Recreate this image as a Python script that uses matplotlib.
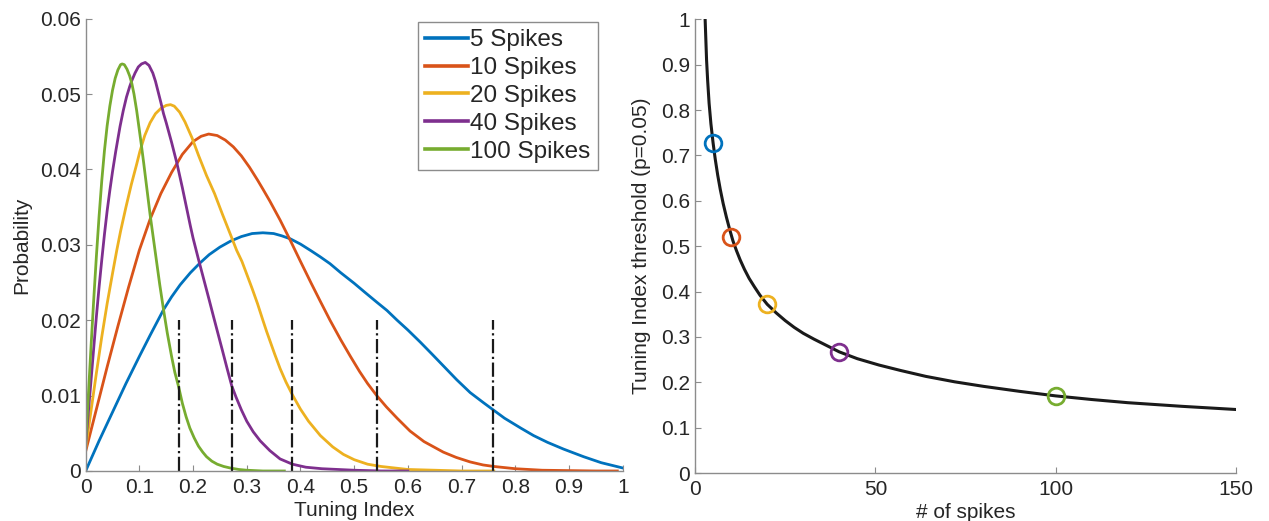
import matplotlib
matplotlib.use("Agg")
import matplotlib.pyplot as plt
from matplotlib.ticker import FuncFormatter

plt.rcParams['font.family'] = ['Liberation Sans', 'DejaVu Sans']

# left panel: probability of tuning index for different spike counts
blue_x = [0, 0.025, 0.05, 0.075, 0.1, 0.12, 0.145, 0.16, 0.176, 0.195, 0.213, 0.23,
          0.25, 0.27, 0.29, 0.31, 0.33, 0.35, 0.365, 0.381, 0.4, 0.42, 0.437, 0.455,
          0.475, 0.5, 0.52, 0.542, 0.561, 0.58, 0.6, 0.623, 0.645, 0.668, 0.691,
          0.716, 0.74, 0.759, 0.78, 0.81, 0.834, 0.86, 0.89, 0.927, 0.96, 1.0]
blue_y = [0, 0.0040, 0.0078, 0.0116, 0.0152, 0.0180, 0.0214, 0.0231, 0.0247, 0.0263,
          0.0276, 0.0287, 0.0297, 0.0305, 0.0311, 0.0315, 0.0316, 0.0315, 0.0312,
          0.0308, 0.0301, 0.0292, 0.0284, 0.0275, 0.0263, 0.0249, 0.0237, 0.0224,
          0.0213, 0.0200, 0.0187, 0.0171, 0.0155, 0.0138, 0.0121, 0.0104, 0.0091,
          0.0081, 0.0070, 0.0057, 0.0047, 0.0038, 0.0029, 0.0019, 0.0011, 0.0004]

red_x = [0, 0.02, 0.04, 0.06, 0.08, 0.1, 0.12, 0.14, 0.16, 0.18, 0.2, 0.215, 0.229,
         0.245, 0.26, 0.275, 0.29, 0.305, 0.32, 0.33, 0.343, 0.362, 0.381, 0.4, 0.42,
         0.437, 0.455, 0.475, 0.493, 0.51, 0.525, 0.542, 0.56, 0.58, 0.604, 0.63,
         0.666, 0.69, 0.716, 0.74, 0.76, 0.8, 0.85, 0.9, 0.95, 0.99]
red_y = [0.0026, 0.0082, 0.0138, 0.0192, 0.0244, 0.0293, 0.0334, 0.0368, 0.0396,
         0.0420, 0.0437, 0.0444, 0.0447, 0.0445, 0.0439, 0.0430, 0.0418, 0.0403,
         0.0386, 0.0374, 0.0358, 0.0333, 0.0306, 0.0278, 0.0249, 0.0225, 0.0200,
         0.0174, 0.0152, 0.0132, 0.0116, 0.0100, 0.0085, 0.0070, 0.0053, 0.0039,
         0.0025, 0.0018, 0.0012, 0.0008, 0.0006, 0.0003, 0.0001, 0.00005, 0.0, 0.0]

yellow_x = [0, 0.01, 0.02, 0.03, 0.04, 0.05, 0.058, 0.065, 0.075, 0.085, 0.095, 0.101,
            0.11, 0.12, 0.13, 0.14, 0.15, 0.158, 0.165, 0.175, 0.185, 0.198, 0.21,
            0.225, 0.24, 0.255, 0.27, 0.281, 0.291, 0.3, 0.31, 0.32, 0.33, 0.337,
            0.343, 0.352, 0.362, 0.373, 0.385, 0.4, 0.415, 0.437, 0.46, 0.48, 0.5,
            0.525, 0.55, 0.6, 0.65, 0.7, 0.76]
yellow_y = [0.0030, 0.0080, 0.0130, 0.0178, 0.0222, 0.0262, 0.0293, 0.0318, 0.0350,
            0.0380, 0.0407, 0.0424, 0.0445, 0.0462, 0.0474, 0.0481, 0.0485, 0.0486,
            0.0484, 0.0476, 0.0463, 0.0442, 0.0419, 0.0392, 0.0368, 0.0340, 0.0313,
            0.0293, 0.0278, 0.0261, 0.0242, 0.0222, 0.0200, 0.0185, 0.0173, 0.0155,
            0.0136, 0.0118, 0.0101, 0.0082, 0.0066, 0.0047, 0.0032, 0.0022, 0.0015,
            0.0009, 0.0006, 0.0002, 0.0001, 0.0, 0.0]

purple_x = [0, 0.005, 0.01, 0.015, 0.02, 0.025, 0.03, 0.035, 0.04, 0.045, 0.05, 0.056,
            0.064, 0.07, 0.076, 0.082, 0.086, 0.092, 0.098, 0.104, 0.111, 0.118, 0.125,
            0.13, 0.135, 0.14, 0.145, 0.15, 0.155, 0.16, 0.165, 0.17, 0.175, 0.18,
            0.185, 0.19, 0.195, 0.2, 0.21, 0.22, 0.23, 0.238, 0.245, 0.255, 0.263,
            0.272, 0.28, 0.29, 0.3, 0.312, 0.325, 0.343, 0.362, 0.385, 0.41, 0.44,
            0.47, 0.5, 0.55, 0.6]
purple_y = [0.0035, 0.0078, 0.0120, 0.0163, 0.0205, 0.0244, 0.0280, 0.0314, 0.0345,
            0.0372, 0.0397, 0.0424, 0.0457, 0.0478, 0.0496, 0.0510, 0.0518, 0.0528,
            0.0536, 0.0540, 0.0542, 0.0538, 0.0528, 0.0517, 0.0503, 0.0489, 0.0474,
            0.0462, 0.0449, 0.0436, 0.0422, 0.0408, 0.0392, 0.0376, 0.0359, 0.0342,
            0.0325, 0.0309, 0.0281, 0.0254, 0.0227, 0.0205, 0.0186, 0.0159, 0.0137,
            0.0113, 0.0098, 0.0081, 0.0066, 0.0052, 0.0040, 0.0027, 0.0016, 0.0009,
            0.0005, 0.0003, 0.0002, 0.0001, 0.0, 0.0]

green_x = [0, 0.005, 0.01, 0.015, 0.02, 0.025, 0.03, 0.035, 0.04, 0.045, 0.05, 0.055,
           0.06, 0.065, 0.068, 0.072, 0.077, 0.082, 0.086, 0.09, 0.095, 0.1, 0.104,
           0.108, 0.112, 0.116, 0.12, 0.126, 0.132, 0.138, 0.145, 0.152, 0.16, 0.166,
           0.173, 0.18, 0.187, 0.194, 0.202, 0.21, 0.218, 0.225, 0.235, 0.245, 0.257,
           0.269, 0.285, 0.3, 0.33, 0.37]
green_y = [0.0037, 0.0100, 0.0165, 0.0227, 0.0285, 0.0338, 0.0385, 0.0425, 0.0458,
           0.0484, 0.0505, 0.0521, 0.0532, 0.0539, 0.0540, 0.0539, 0.0533, 0.0524,
           0.0514, 0.0500, 0.0478, 0.0452, 0.0431, 0.0409, 0.0386, 0.0363, 0.0340,
           0.0309, 0.0278, 0.0247, 0.0214, 0.0183, 0.0152, 0.0131, 0.0112, 0.0090,
           0.0072, 0.0057, 0.0044, 0.0033, 0.0025, 0.0019, 0.0013, 0.0009, 0.0006,
           0.0004, 0.0002, 0.0001, 0.0, 0.0]

labels = ['5 Spikes', '10 Spikes', '20 Spikes', '40 Spikes', '100 Spikes']
colors = ['#0072BD', '#D95319', '#EDB120', '#7E2F8E', '#77AC30']

# dash-dot threshold markers on the left panel
thresh_x = [0.173, 0.273, 0.385, 0.542, 0.759]
thresh_top = 0.02

# right panel: threshold vs number of spikes
curve_n = [2.8, 3.0, 3.2, 3.5, 3.9, 4.4, 5.0, 5.6, 6.3, 7.0, 7.8, 8.7, 9.6, 10.5,
           11.5, 12.5, 13.7, 15, 16.5, 18, 20, 22.5, 25, 27.5, 30, 33, 36, 40, 45,
           51, 57, 64, 72, 80, 90, 100, 110, 120, 135, 150]
curve_thr = [1.0, 0.955, 0.91, 0.865, 0.815, 0.77, 0.728, 0.692, 0.656, 0.625,
             0.594, 0.564, 0.537, 0.512, 0.490, 0.470, 0.449, 0.429, 0.410, 0.392,
             0.372, 0.353, 0.336, 0.321, 0.308, 0.295, 0.283, 0.267, 0.252, 0.238,
             0.226, 0.213, 0.201, 0.191, 0.180, 0.170, 0.162, 0.155, 0.147, 0.140]
spikes = [5, 10, 20, 40, 100]
spike_thr = [0.728, 0.521, 0.372, 0.267, 0.170]

axis_gray = '#8c8c8c'
text_col = '#262626'


def style_axes(ax):
    for side in ['top', 'right']:
        ax.spines[side].set_visible(False)
    for side in ['left', 'bottom']:
        ax.spines[side].set_color(axis_gray)
        ax.spines[side].set_linewidth(1.0)
    ax.tick_params(direction='in', length=4, width=0.8, color=axis_gray,
                   labelcolor=text_col, labelsize=15)
    ax.tick_params(axis='x', pad=5)
    ax.tick_params(axis='y', pad=3.5)


fmt = FuncFormatter(lambda v, p: '%g' % round(v, 3))

fig = plt.figure(figsize=(12.69, 5.21), dpi=100)

ax1 = fig.add_axes([0.0675, 0.0960, 0.4232, 0.8681])
series = [(blue_x, blue_y), (red_x, red_y), (yellow_x, yellow_y),
          (purple_x, purple_y), (green_x, green_y)]
for (xs, ys), c, lab in zip(series, colors, labels):
    ax1.plot(xs, ys, color=c, lw=2.0, label=lab)
for tx in thresh_x:
    ax1.plot([tx, tx], [0, thresh_top], color='#1a1a1a', lw=1.6, ls='-.')
ax1.set_xlim(0, 1)
ax1.set_ylim(0, 0.06)
ax1.set_xticks([i / 10 for i in range(11)])
ax1.set_yticks([i / 100 for i in range(7)])
ax1.xaxis.set_major_formatter(fmt)
ax1.yaxis.set_major_formatter(fmt)
style_axes(ax1)
ax1.set_xlabel('Tuning Index', fontsize=15, color=text_col, labelpad=3)
ax1.set_ylabel('Probability', fontsize=15, color=text_col, labelpad=6)
leg = ax1.legend(loc='upper right', bbox_to_anchor=(0.954, 0.993), fontsize=17.5,
                 handlelength=1.75, handletextpad=0.12, labelspacing=0.24,
                 borderpad=0.3, borderaxespad=0, fancybox=False, framealpha=1)
leg.get_frame().set_edgecolor(axis_gray)
leg.get_frame().set_linewidth(1.0)
for t in leg.get_texts():
    t.set_color(text_col)
for h in leg.get_lines():
    h.set_linewidth(2.6)

ax2 = fig.add_axes([0.5477, 0.0921, 0.4263, 0.8708])
ax2.plot(curve_n, curve_thr, color='#1a1a1a', lw=2.2)
for n, t, c in zip(spikes, spike_thr, colors):
    ax2.plot(n, t, 'o', ms=12, mfc='none', mec=c, mew=2)
ax2.set_xlim(0, 150)
ax2.set_ylim(0, 1)
ax2.set_xticks([0, 50, 100, 150])
ax2.set_yticks([i / 10 for i in range(11)])
ax2.yaxis.set_major_formatter(fmt)
style_axes(ax2)
ax2.set_xlabel('# of spikes', fontsize=15, color=text_col, labelpad=3)
ax2.set_ylabel('Tuning Index threshold (p=0.05)', fontsize=15, color=text_col,
               labelpad=7)

fig.savefig('out.png', dpi=100)
